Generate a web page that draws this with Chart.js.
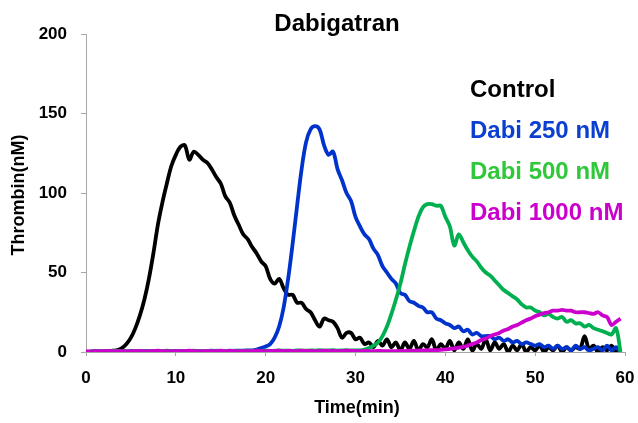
<!DOCTYPE html>
<html>
<head>
<meta charset="utf-8">
<script src="https://cdn.jsdelivr.net/npm/chart.js@4.4.1/dist/chart.umd.min.js"></script>
<style>
  html, body { margin: 0; padding: 0; background: #fff; }
  #wrap { width: 638px; height: 423px; }
</style>
</head>
<body>
<div id="wrap"><canvas id="c" width="638" height="423"></canvas></div>
<script>
const chartTitle = "Dabigatran";
const xTitle = "Time(min)";
const yTitle = "Thrombin(nM)";
const seriesNames = ["Control", "Dabi 250 nM", "Dabi 500 nM", "Dabi 1000 nM"];
const xTicks = [0, 10, 20, 30, 40, 50, 60];
const yTicks = [0, 50, 100, 150, 200];

const times = [
  0,0.5,1,1.5,2,2.5,3,3.5,4,4.5,5,5.5,6,6.5,7,7.5,8,8.5,9,9.5,
  10,10.5,11,11.5,12,12.5,13,13.5,14,14.5,15,15.5,16,16.5,17,17.5,18,18.5,19,19.5,
  20,20.5,21,21.5,22,22.5,23,23.5,24,24.5,25,25.5,26,26.5,27,27.5,28,28.5,29,29.5,
  30,30.5,31,31.5,32,32.5,33,33.5,34,34.5,35,35.5,36,36.5,37,37.5,38,38.5,39,39.5,
  40,40.5,41,41.5,42,42.5,43,43.5,44,44.5,45,45.5,46,46.5,47,47.5,48,48.5,49,49.5,
  50,50.5,51,51.5,52,52.5,53,53.5,54,54.5,55,55.5,56,56.5,57,57.5,58,58.5,59,59.5
];

const control = [
  0,0,0.3,0.2,0.5,0.4,0.8,1.2,
  2.5,5,9,15,23,33,46,62,80,94,
  106,117,124,129,130,121,126,124,121,119,
  115,110,106,98,94,86,80,74,71,66,
  62,57,54,46,43,46,40,36,36,31,
  31,27,25,20,16,21,20,19,15,9,
  12,12,8,9,5,6,
  3,7,4,8,3,6,1,6,2,7,
  1,5,3,8,1,5,2,7,1,6,
  2,8,1,5,2,8,1,6,2,5,
  0,4,1,5,0,3,1,4,0,3,
  1,4,0,3,1,3,2,10,2,4,
  0,3,1,4,0,2
];

const dabi250 = [
  0,0.2,0.4,0.3,0.5,0.3,0.6,0.4,0.5,0.3,
  0.6,0.4,0.5,0.7,0.4,0.6,0.5,0.7,0.4,0.6,
  0.5,0.7,0.5,0.6,0.4,0.7,0.5,0.6,0.8,0.6,
  0.7,0.6,0.8,0.7,0.9,0.8,1.0,
  1,1.5,2.5,3.5,5,9,16,28,46,68,
  92,115,132,140,142,140,130,124,126,115,
  108,100,95,85,79,74,71,65,61,54,
  50,46,43,37,36,32,31,29,28,25,
  25,21,20,18,17,15,16,13,14,11,
  12,10,10,10,8,9,7,8,6,7,
  5,6,5,4,5,3,4,2,4,2,
  3,1,4,2,3,1,2,3,1,4,
  1,3,0
];

const dabi500 = [
  0,0.3,0.5,0.4,0.6,0.3,0.5,0.7,0.4,0.6,
  0.5,0.3,0.6,0.5,0.7,0.4,0.6,0.5,0.8,0.6,
  0.4,0.7,0.5,0.6,0.8,0.5,0.7,0.6,0.5,0.8,
  0.6,0.7,0.5,0.8,0.6,0.7,0.9,0.6,0.8,0.7,
  0.9,0.7,0.8,1.0,0.8,0.9,0.7,1.0,0.9,0.8,
  1.0,0.9,1.1,0.9,1.0,1.1,0.9,1.0,1.1,1.0,
  1.0,
  1,1.5,2.5,4,6,10,16,24,33,43,
  55,66,76,85,91,93,93,92,92,85,
  79,67,74,69,64,60,57,53,50,48,
  45,42,39,37,35,33,30,28,28,26,
  25,23,24,22,21,22,19,20,18,18,
  16,17,15,14,13,12,11,15,0
];

const dabi1000 = [
  0.5,0.3,0.6,0.4,0.5,0.7,0.4,0.6,0.5,0.3,
  0.6,0.5,0.7,0.4,0.6,0.5,0.8,0.5,0.6,0.4,
  0.7,0.5,0.6,0.8,0.5,0.6,0.4,0.7,0.5,0.6,
  0.8,0.5,0.7,0.6,0.4,0.7,0.5,0.6,0.8,0.6,
  0.5,0.7,0.6,0.8,0.5,0.7,0.6,0.5,0.8,0.6,
  0.7,0.5,0.6,0.8,0.6,0.7,0.5,0.6,0.8,0.7,
  0.6,0.5,0.7,0.6,0.5,0.7,0.6,
  0.5,0.6,0.5,0.7,0.6,0.8,0.8,0.9,1,1.1,
  1.1,1.2,1.3,1.6,2,2.3,2.8,3.2,4,5,
  6,7.5,8.5,10,11,12,13.5,14.5,16,17,
  18.5,20,21,22.5,23.5,24.5,25,26,26,26.5,
  26,26,25,25,25,24.5,24,25,23,22,
  17,19,21
];

const lineColors = ["#000000", "#0033CC", "#00B050", "#CC00CC"];
const labelColors = ["#000000", "#0B3FCF", "#2FC83A", "#CC00CC"];
const allSeries = [control, dabi250, dabi500, dabi1000];

const FONT = '"Liberation Sans", Arial, sans-serif';
const AXIS_GRAY = '#A6A6A6';

const textPlugin = {
  id: 'texts',
  afterDraw(chart) {
    const ctx = chart.ctx;
    ctx.save();
    ctx.fillStyle = '#000';
    ctx.font = 'bold 24px ' + FONT;
    ctx.textAlign = 'center';
    ctx.textBaseline = 'alphabetic';
    ctx.fillText(chartTitle, 337, 31);

    ctx.font = 'bold 18px ' + FONT;
    ctx.fillText(xTitle, 357, 413);

    ctx.save();
    ctx.translate(24, 195);
    ctx.rotate(-Math.PI / 2);
    ctx.textAlign = 'center';
    ctx.textBaseline = 'alphabetic';
    ctx.fillText(yTitle, 0, 0);
    ctx.restore();

    ctx.font = 'bold 24px ' + FONT;
    ctx.textAlign = 'left';
    const baselines = [97, 138, 179, 220];
    seriesNames.forEach((n, i) => {
      ctx.fillStyle = labelColors[i];
      ctx.fillText(n, 470, baselines[i]);
    });
    ctx.restore();
  }
};

const datasets = allSeries.map((s, i) => ({
  label: seriesNames[i],
  data: times.map((t, j) => ({ x: t, y: s[j] })),
  borderColor: lineColors[i],
  backgroundColor: lineColors[i],
  borderWidth: 3.8,
  pointRadius: 0,
  tension: 0.35,
  fill: false,
  order: allSeries.length - i
}));

new Chart(document.getElementById('c'), {
  type: 'line',
  data: { datasets },
  options: {
    responsive: false,
    animation: false,
    devicePixelRatio: 1,
    layout: { padding: { top: 34, right: 13, left: 0, bottom: 0 } },
    plugins: { legend: { display: false }, tooltip: { enabled: false }, title: { display: false } },
    scales: {
      x: {
        type: 'linear', min: 0, max: 60,
        afterBuildTicks(s) { s.ticks = xTicks.map(v => ({ value: v })); },
        ticks: { color: '#000', font: { family: FONT, size: 17, weight: 'bold' }, padding: 12, maxRotation: 0, autoSkip: false },
        grid: { display: true, drawOnChartArea: false, drawTicks: true, tickLength: 4, color: AXIS_GRAY },
        border: { display: true, color: AXIS_GRAY, width: 1 },
        afterFit(s) { s.height = 71; s.paddingLeft = 0; s.paddingRight = 0; }
      },
      y: {
        min: 0, max: 200,
        afterBuildTicks(s) { s.ticks = yTicks.map(v => ({ value: v })); },
        ticks: { color: '#000', font: { family: FONT, size: 17, weight: 'bold' }, padding: 14, autoSkip: false },
        grid: { display: true, drawOnChartArea: false, drawTicks: true, tickLength: 5, color: AXIS_GRAY },
        border: { display: true, color: AXIS_GRAY, width: 1 },
        afterFit(s) { s.width = 86; s.paddingTop = 0; s.paddingBottom = 0; }
      }
    }
  },
  plugins: [textPlugin]
});
</script>
</body>
</html>
